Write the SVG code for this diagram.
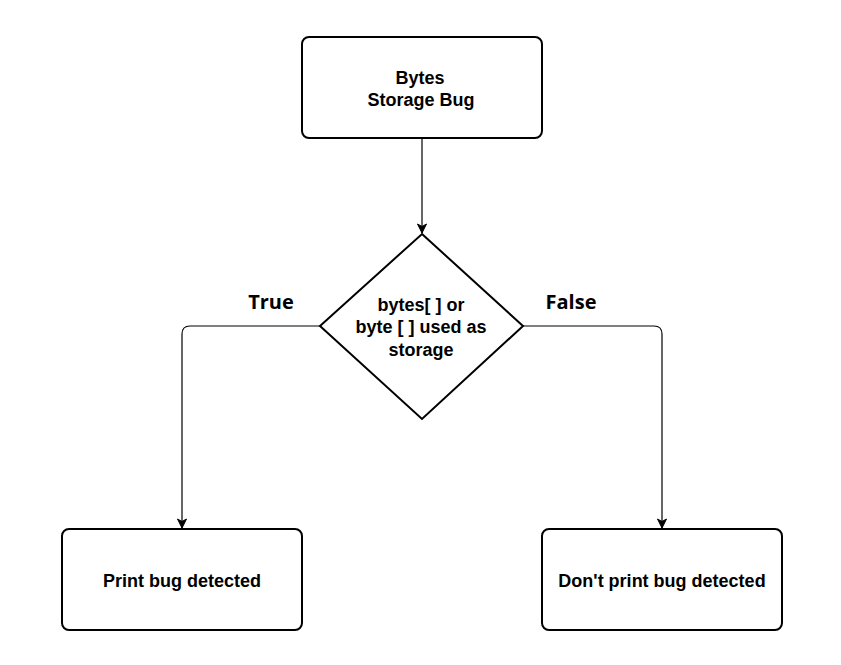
<svg xmlns="http://www.w3.org/2000/svg" width="841" height="665" viewBox="0 0 841 665">
<defs>
<style>
.box{fill:#fff;stroke:#000;stroke-width:2}
.t{font-family:"Liberation Sans",Arial,sans-serif;font-weight:bold;font-size:18px;fill:#000;text-anchor:middle}
.lbl{font-family:"Open Sans","Noto Sans",sans-serif;font-weight:bold;font-size:20px;fill:#000;text-anchor:middle}
.c{fill:none;stroke:#000;stroke-width:1.2}
</style>
<marker id="arr" markerWidth="12" markerHeight="12" refX="10" refY="6" orient="auto" markerUnits="userSpaceOnUse">
<path d="M1,1.5 L10,6 L1,10.5 L3.5,6 Z" fill="#000" stroke="#000" stroke-width="1"/>
</marker>
</defs>
<rect width="841" height="665" fill="#fff"/>
<g id="connectors">
<path class="c" d="M422,138 V233" marker-end="url(#arr)"/>
<path class="c" d="M320,326 H190 Q182,326 182,334 V528" marker-end="url(#arr)"/>
<path class="c" d="M523,326 H654 Q662,326 662,334 V528" marker-end="url(#arr)"/>
<text class="lbl" x="271" y="309">True</text>
<text class="lbl" x="571" y="309">False</text>
</g>
<g id="start">
<rect class="box" x="302" y="37" width="240" height="101" rx="7"/>
<text class="t" x="420" y="84">Bytes</text>
<text class="t" x="421" y="106">Storage Bug</text>
</g>
<g id="decision">
<polygon class="box" points="422,234 523,326 422,419 320,326"/>
<text class="t" x="421" y="311">bytes[ ] or</text>
<text class="t" x="421" y="333">byte [ ] used as</text>
<text class="t" x="421" y="356">storage</text>
</g>
<g id="print">
<rect class="box" x="62" y="529" width="240" height="101" rx="7"/>
<text class="t" x="182" y="587">Print bug detected</text>
</g>
<g id="noprint">
<rect class="box" x="542" y="529" width="240" height="101" rx="7"/>
<text class="t" x="662" y="587">Don't print bug detected</text>
</g>
</svg>
